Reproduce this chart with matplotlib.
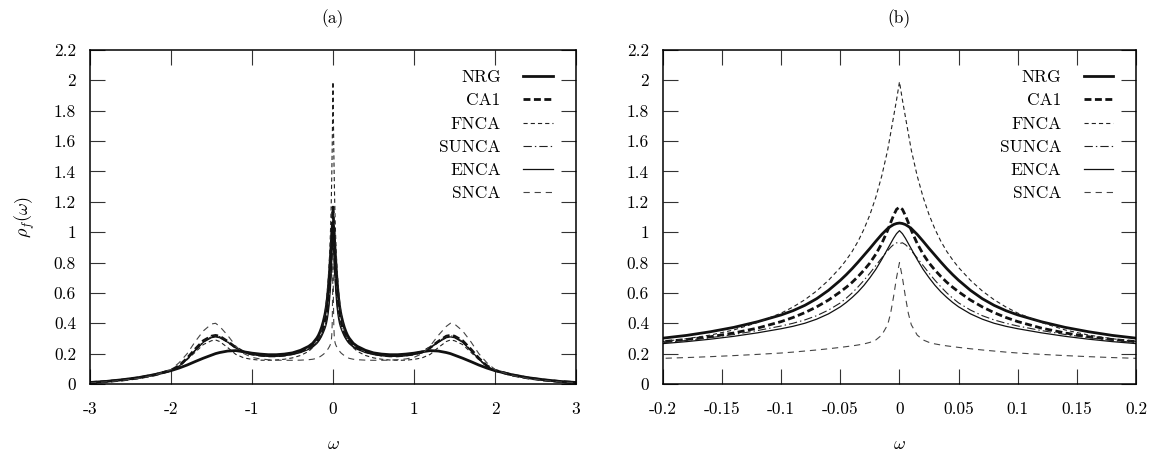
import matplotlib
matplotlib.use("Agg")
import matplotlib.pyplot as plt
import numpy as np

plt.rcParams['font.family'] = ['cmr10', 'DejaVu Serif']
plt.rcParams['mathtext.fontset'] = 'cm'
plt.rcParams['axes.unicode_minus'] = False
plt.rcParams['axes.formatter.use_mathtext'] = True
plt.rcParams['lines.scale_dashes'] = False

# omega >= 0 ; the spectra are symmetric in omega, the negative side is mirrored
w_half = [0, 0.0025, 0.005, 0.0075, 0.01, 0.015, 0.02, 0.025, 0.03, 0.035, 0.04,
          0.045, 0.05, 0.06, 0.07, 0.08, 0.09, 0.1, 0.12, 0.14, 0.16, 0.18, 0.2,
          0.25, 0.3, 0.4, 0.5, 0.6, 0.7, 0.8, 0.9, 1.0, 1.1, 1.2, 1.3, 1.4,
          1.45, 1.5, 1.6, 1.7, 1.8, 1.9, 2.0, 2.2, 2.4, 2.6, 2.8, 3.0]

nrg = [1.06, 1.057, 1.05, 1.038, 1.024, 0.985, 0.94, 0.893, 0.848, 0.803, 0.76,
       0.72, 0.683, 0.617, 0.562, 0.518, 0.483, 0.455, 0.41, 0.373, 0.344, 0.32, 0.302,
       0.268, 0.248, 0.222, 0.205, 0.197, 0.193, 0.193, 0.197, 0.203, 0.212, 0.22,
       0.217, 0.207, 0.2, 0.19, 0.17, 0.148, 0.125, 0.105, 0.088, 0.062, 0.042,
       0.028, 0.017, 0.01]
ca1 = [1.165, 1.15, 1.11, 1.062, 1.012, 0.925, 0.855, 0.797, 0.75, 0.708, 0.67,
       0.637, 0.607, 0.553, 0.508, 0.47, 0.438, 0.411, 0.368, 0.336, 0.311, 0.293, 0.279,
       0.255, 0.24, 0.215, 0.2, 0.19, 0.185, 0.185, 0.19, 0.197, 0.21, 0.24, 0.28,
       0.315, 0.32, 0.315, 0.285, 0.23, 0.17, 0.12, 0.09, 0.06, 0.04, 0.026, 0.016,
       0.009]
fnca = [1.99, 1.87, 1.76, 1.65, 1.54, 1.37, 1.23, 1.115, 1.02, 0.94, 0.873,
        0.817, 0.767, 0.683, 0.613, 0.555, 0.507, 0.467, 0.405, 0.356, 0.322, 0.298, 0.28,
        0.24, 0.215, 0.188, 0.172, 0.163, 0.158, 0.156, 0.157, 0.162, 0.172, 0.195,
        0.24, 0.28, 0.29, 0.285, 0.26, 0.21, 0.16, 0.115, 0.088, 0.058, 0.038,
        0.025, 0.015, 0.008]
sunca = [0.925, 0.93, 0.918, 0.90, 0.878, 0.83, 0.78, 0.73, 0.683, 0.64, 0.60,
         0.565, 0.534, 0.487, 0.45, 0.422, 0.40, 0.382, 0.352, 0.326, 0.305, 0.287, 0.273,
         0.248, 0.232, 0.21, 0.197, 0.188, 0.183, 0.183, 0.187, 0.195, 0.21, 0.24,
         0.28, 0.312, 0.318, 0.312, 0.28, 0.225, 0.165, 0.118, 0.088, 0.06, 0.04,
         0.026, 0.016, 0.009]
enca = [1.01, 0.99, 0.96, 0.925, 0.89, 0.82, 0.755, 0.70, 0.65, 0.607, 0.57,
        0.537, 0.508, 0.462, 0.427, 0.40, 0.38, 0.364, 0.337, 0.314, 0.295, 0.279, 0.266,
        0.243, 0.228, 0.207, 0.194, 0.186, 0.182, 0.182, 0.186, 0.194, 0.208, 0.237,
        0.275, 0.305, 0.31, 0.305, 0.275, 0.22, 0.165, 0.117, 0.088, 0.06, 0.04,
        0.026, 0.016, 0.009]
snca = [0.80, 0.70, 0.575, 0.465, 0.39, 0.322, 0.29, 0.274, 0.264, 0.257, 0.251,
        0.246, 0.241, 0.232, 0.224, 0.217, 0.21, 0.204, 0.195, 0.187, 0.18, 0.174, 0.169,
        0.163, 0.16, 0.157, 0.156, 0.156, 0.157, 0.16, 0.165, 0.175, 0.2, 0.25,
        0.32, 0.38, 0.40, 0.395, 0.35, 0.28, 0.20, 0.14, 0.095, 0.058, 0.037,
        0.024, 0.014, 0.007]

labels = ['NRG', 'CA1', 'FNCA', 'SUNCA', 'ENCA', 'SNCA']
curves = [nrg, ca1, fnca, sunca, enca, snca]
styles = [
    dict(color='#111111', lw=2.0, ls='-'),
    dict(color='#111111', lw=2.0, dashes=(5, 2.5)),
    dict(color='#222222', lw=0.8, dashes=(3, 2.2)),
    dict(color='#222222', lw=0.8, dashes=(6, 2.2, 1, 2.2)),
    dict(color='#111111', lw=0.9, ls='-'),
    dict(color='#444444', lw=0.8, dashes=(4.5, 3.5)),
]

xt_a = [-3, -2, -1, 0, 1, 2, 3]
xt_a_lab = ['-3', '-2', '-1', '0', '1', '2', '3']
xt_b = [-0.2, -0.15, -0.1, -0.05, 0, 0.05, 0.1, 0.15, 0.2]
xt_b_lab = ['-0.2', '-0.15', '-0.1', '-0.05', '0', '0.05', '0.1', '0.15', '0.2']
yt = [0, 0.2, 0.4, 0.6, 0.8, 1.0, 1.2, 1.4, 1.6, 1.8, 2.0, 2.2]
yt_lab = ['0', '0.2', '0.4', '0.6', '0.8', '1', '1.2', '1.4', '1.6', '1.8', '2', '2.2']


def mirror(v):
    v = np.asarray(v, float)
    return np.concatenate([v[::-1][:-1], v])


w = np.concatenate([-np.asarray(w_half)[::-1][:-1], np.asarray(w_half)])

fig = plt.figure(figsize=(11.58, 4.58), dpi=100)
ax_a = fig.add_axes([0.0777, 0.1616, 0.4197, 0.7293])
ax_b = fig.add_axes([0.5725, 0.1616, 0.4085, 0.7293])

for ax, xlim, xt, xl, title in [(ax_a, (-3, 3), xt_a, xt_a_lab, '(a)'),
                                (ax_b, (-0.2, 0.2), xt_b, xt_b_lab, '(b)')]:
    for lab, c, st in zip(labels, curves, styles):
        ax.plot(w, mirror(c), label=lab, **st)
    ax.set_xlim(*xlim)
    ax.set_ylim(0, 2.2)
    ax.set_xticks(xt)
    ax.set_xticklabels(xl)
    ax.set_yticks(yt)
    ax.set_yticklabels(yt_lab)
    ax.tick_params(direction='in', length=10.5, width=0.8, color='#333333',
                   top=True, right=True, labelsize=12.5)
    ax.tick_params(axis='x', pad=13)
    ax.tick_params(axis='y', pad=10)
    for s in ax.spines.values():
        s.set_linewidth(1.1)
    ax.set_title(title, fontsize=12.5, pad=19)
    ax.set_xlabel(r'$\omega$', fontsize=13, labelpad=14)
    ax.legend(loc='upper right', bbox_to_anchor=(1 - 23 / 480, 1 - 20 / 334),
              borderaxespad=0, frameon=False, markerfirst=False,
              fontsize=12.5, handlelength=1.7, handletextpad=1.3,
              labelspacing=0.45, borderpad=0)

ax_a.set_ylabel(r'$\rho_f(\omega)$', fontsize=13, labelpad=12)

fig.savefig('out.png', dpi=100)
